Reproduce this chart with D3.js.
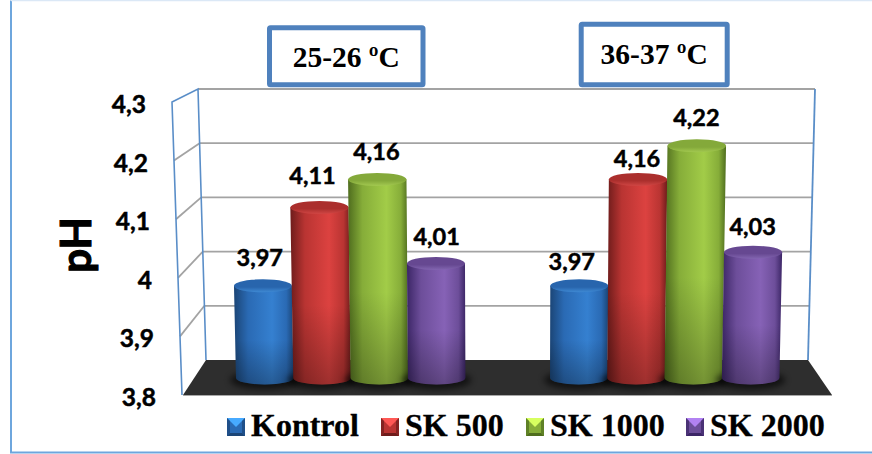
<!DOCTYPE html>
<html>
<head>
<meta charset="utf-8">
<script src="https://cdn.jsdelivr.net/npm/d3@7/dist/d3.min.js"></script>
<style>
  html, body { margin: 0; padding: 0; background: #fff; }
  svg { display: block; }
</style>
</head>
<body>
<svg id="chart" width="872" height="454"></svg>
<script>
// Measured pH per starter dose, at the two incubation temperatures
const temperatures = ["25-26 ºC", "36-37 ºC"];
const seriesNames = ["Kontrol", "SK 500", "SK 1000", "SK 2000"];
const phLowTemp = [3.97, 4.11, 4.16, 4.01];
const phHighTemp = [3.97, 4.16, 4.22, 4.03];
const tickValues = [3.8, 3.9, 4.0, 4.1, 4.2, 4.3];
const seriesColors = [
  { dark: "#1b4576", mid: "#2a6ab4", light: "#3580d0", top: "#2865ad", rim: "#3f8ad4" },
  { dark: "#6e1c1b", mid: "#b93432", light: "#dc4240", top: "#ab2f2d", rim: "#d04644" },
  { dark: "#4f6d1e", mid: "#86ad39", light: "#a2cc48", top: "#84a93a", rim: "#a3c950" },
  { dark: "#3c2666", mid: "#6d4e9a", light: "#8662b6", top: "#664891", rim: "#8265b0" }
];

const svg = d3.select("#chart");
const defs = svg.append("defs");

// Comma decimals for ticks and data labels
const commaTick = v => String(+v.toFixed(1)).replace(".", ",");
const commaValue = v => v.toFixed(2).replace(".", ",");

// Chart frame
const frame = { left: 11, top: 0.5, right: 872, bottom: 452.5 };
svg.append("path")
  .attr("d", `M${frame.left},${frame.top}V${frame.bottom}H${frame.right}`)
  .attr("fill", "none").attr("stroke", "#6ea6dd").attr("stroke-width", 2);
svg.append("line")
  .attr("x1", frame.left).attr("x2", frame.right).attr("y1", frame.top).attr("y2", frame.top)
  .attr("stroke", "#dbe8f6").attr("stroke-width", 1.5);

// Three scales for the pseudo 3D box: back wall, front edge of the side wall, bar tops
const domainY = [3.8, 4.3];
const yBack = d3.scaleLinear().domain(domainY).range([360, 89]);
const yFront = d3.scaleLinear().domain(domainY).range([395, 102]);
const yBar = d3.scaleLinear().domain(domainY).range([381, 101]);
const xBackLeft = d3.scaleLinear().domain(domainY).range([206, 198]);
const xBackRight = d3.scaleLinear().domain(domainY).range([808, 815]);
const xFront = d3.scaleLinear().domain(domainY).range([182, 172]);

// Floor
const floor = { backL: 206, backR: 808, backY: 360, frontL: 183, frontR: 832, frontY: 395 };
svg.append("path")
  .attr("d", `M${floor.backL},${floor.backY}L${floor.backR},${floor.backY}L${floor.frontR},${floor.frontY}L${floor.frontL},${floor.frontY}Z`)
  .attr("fill", "#2e2e2e");
svg.append("line")
  .attr("x1", floor.frontL).attr("x2", floor.frontR).attr("y1", floor.frontY + 0.5).attr("y2", floor.frontY + 0.5)
  .attr("stroke", "#a8a8a8").attr("stroke-width", 1);

// Gridlines on the back and side walls
const gridTicks = tickValues.slice(1);
svg.append("g").selectAll("line").data(gridTicks).join("line")
  .attr("x1", d => xBackLeft(d)).attr("x2", d => xBackRight(d))
  .attr("y1", d => yBack(d)).attr("y2", d => yBack(d))
  .attr("stroke", "#a3a3a3").attr("stroke-width", 1.8);
svg.append("g").selectAll("line").data(gridTicks.slice(0, -1)).join("line")
  .attr("x1", d => xFront(d)).attr("x2", d => xBackLeft(d))
  .attr("y1", d => yFront(d)).attr("y2", d => yBack(d))
  .attr("stroke", "#a3a3a3").attr("stroke-width", 1.8);

// Blue wall outlines
const wallStroke = "#5a8ec8";
const wallPath = [
  [xFront(3.8), yFront(3.8)], [xFront(4.3), yFront(4.3)],
  [xBackLeft(4.3), yBack(4.3)], [xBackLeft(3.8), yBack(3.8)]
];
svg.append("path")
  .attr("d", d3.line()(wallPath))
  .attr("fill", "none").attr("stroke", wallStroke).attr("stroke-width", 1.6);
svg.append("path")
  .attr("d", d3.line()([[xBackRight(4.3), yBack(4.3)], [xBackRight(3.8), yBack(3.8)]]))
  .attr("fill", "none").attr("stroke", wallStroke).attr("stroke-width", 1.8);

// Tick labels follow the slant of the side wall
const labelFont = "Lato, 'Open Sans', sans-serif";
svg.append("g").selectAll("text").data(tickValues).join("text")
  .attr("x", d => xFront(d) - 26)
  .attr("y", d => yFront(d) + 11)
  .attr("text-anchor", "end")
  .attr("font-family", labelFont).attr("font-weight", 700).attr("font-size", 24.5)
  .attr("fill", "#000").attr("stroke", "#000").attr("stroke-width", 0.5)
  .text(commaTick);

// Axis title
svg.append("text")
  .attr("transform", "translate(90.5,245) rotate(-90)")
  .attr("text-anchor", "middle")
  .attr("font-family", labelFont).attr("font-weight", 700).attr("font-size", 42)
  .attr("fill", "#000").attr("stroke", "#000").attr("stroke-width", 1)
  .text("pH");

// Bar placement along the floor
const groupStart = d3.scaleOrdinal().domain(temperatures).range([236, 550]);
const barStep = 57.3;
const barWidth = 57.5;
const barBaseY = yBar(3.8) - 3;
const ry = 6.5;
const vanishX = 510;
const spread = 8e-5;

// Shading for the cylinders
seriesColors.forEach((c, i) => {
  const side = defs.append("linearGradient").attr("id", `side${i}`);
  [[0, c.dark], [0.24, c.mid], [0.64, c.light], [0.88, c.mid], [1, c.dark]].forEach(([o, col]) =>
    side.append("stop").attr("offset", o).attr("stop-color", col));
  const cap = defs.append("linearGradient").attr("id", `cap${i}`).attr("x2", 0).attr("y2", 1);
  [[0, c.top], [0.6, c.top], [1, c.rim]].forEach(([o, col]) =>
    cap.append("stop").attr("offset", o).attr("stop-color", col));
});
const fade = defs.append("linearGradient").attr("id", "fade").attr("x2", 0).attr("y2", 1);
[[0, 0], [0.55, 0], [1, 0.28]].forEach(([o, a]) =>
  fade.append("stop").attr("offset", o).attr("stop-color", "#000").attr("stop-opacity", a));
defs.append("filter").attr("id", "soft").attr("x", "-20%").attr("y", "-50%").attr("width", "140%").attr("height", "200%")
  .append("feGaussianBlur").attr("stdDeviation", 3);

const rows = temperatures.flatMap((t, g) =>
  (g === 0 ? phLowTemp : phHighTemp).map((v, s) => ({ t, g, s, v }))
);

const barsLayer = svg.append("g");
rows.forEach(d => {
  const xL = groupStart(d.t) + d.s * barStep;
  const xR = xL + barWidth;
  const yT = yBar(d.v);
  const lift = barBaseY - yT;
  const warp = x => vanishX + (x - vanishX) * (1 + spread * lift);
  const tL = warp(xL), tR = warp(xR);

  barsLayer.append("ellipse")
    .attr("cx", (xL + xR) / 2).attr("cy", barBaseY + 2)
    .attr("rx", barWidth / 2 + 6).attr("ry", ry + 3)
    .attr("fill", "#000").attr("opacity", 0.6).attr("filter", "url(#soft)");

  const body = `M${tL},${yT}L${xL},${barBaseY}A${barWidth / 2},${ry} 0 0 0 ${xR},${barBaseY}L${tR},${yT}Z`;
  barsLayer.append("path").attr("d", body).attr("fill", `url(#side${d.s})`);
  barsLayer.append("path").attr("d", body).attr("fill", "url(#fade)");
  barsLayer.append("ellipse")
    .attr("cx", (tL + tR) / 2).attr("cy", yT)
    .attr("rx", (tR - tL) / 2).attr("ry", ry)
    .attr("fill", `url(#cap${d.s})`);
});

// Value labels sit by hand around the cylinders so they do not collide
const labelNudgeX = [-5, -9.5, -3, 0, -7, 1, 3, 2];
const labelLift = [20, 23, 19, 18, 16, 12, 20, 17];
svg.append("g").selectAll("text").data(rows).join("text")
  .attr("x", (d, i) => groupStart(d.t) + d.s * barStep + barWidth / 2 + labelNudgeX[i])
  .attr("y", (d, i) => yBar(d.v) - labelLift[i])
  .attr("text-anchor", "middle")
  .attr("font-family", labelFont).attr("font-weight", 700).attr("font-size", 23.5)
  .attr("fill", "#000").attr("stroke", "#000").attr("stroke-width", 0.5)
  .text(d => commaValue(d.v));

// Temperature call-outs
const calloutBoxes = [
  { x: 269.5, y: 27.8, w: 153.5, h: 57 },
  { x: 581.2, y: 24.2, w: 146, h: 60.6 }
];
const callouts = svg.append("g");
temperatures.forEach((t, i) => {
  const b = calloutBoxes[i];
  callouts.append("rect")
    .attr("x", b.x).attr("y", b.y).attr("width", b.w).attr("height", b.h)
    .attr("rx", 1).attr("fill", "#fff").attr("stroke", "#4f81bd").attr("stroke-width", 5);
  callouts.append("text")
    .attr("x", b.x + b.w / 2).attr("y", b.y + 39.5)
    .attr("text-anchor", "middle")
    .attr("font-family", "'Liberation Serif', serif").attr("font-weight", 700).attr("font-size", 29.5)
    .attr("fill", "#000")
    .text(t);
});

// Legend with bevelled swatches
const legendX = [227, 381, 526, 686];
const legendY = 418;
const swatch = 18;
const legendTextGap = 24;
const legend = svg.append("g");
seriesNames.forEach((name, i) => {
  const x = legendX[i], c = seriesColors[i];
  const g = legend.append("g").attr("transform", `translate(${x},${legendY})`);
  const s = swatch, e = 3;
  g.append("rect").attr("width", s).attr("height", s).attr("fill", c.mid);
  g.append("path").attr("d", `M0,0H${s}L${s / 2},${s / 2}Z`).attr("fill", d3.color(c.light).brighter(0.8));
  g.append("path").attr("d", `M0,${s}H${s}L${s - e},${s - e}H${e}Z`).attr("fill", c.dark);
  g.append("path").attr("d", `M0,0L${e},${e}V${s - e}L0,${s}Z`).attr("fill", c.dark).attr("opacity", 0.7);
  g.append("path").attr("d", `M${s},0L${s - e},${e}V${s - e}L${s},${s}Z`).attr("fill", c.dark).attr("opacity", 0.7);
  legend.append("text")
    .attr("x", x + legendTextGap).attr("y", legendY + 18)
    .attr("font-family", "'Liberation Serif', serif").attr("font-weight", 700).attr("font-size", 32)
    .attr("fill", "#000").attr("stroke", "#000").attr("stroke-width", 0.3)
    .text(name);
});
</script>
</body>
</html>
